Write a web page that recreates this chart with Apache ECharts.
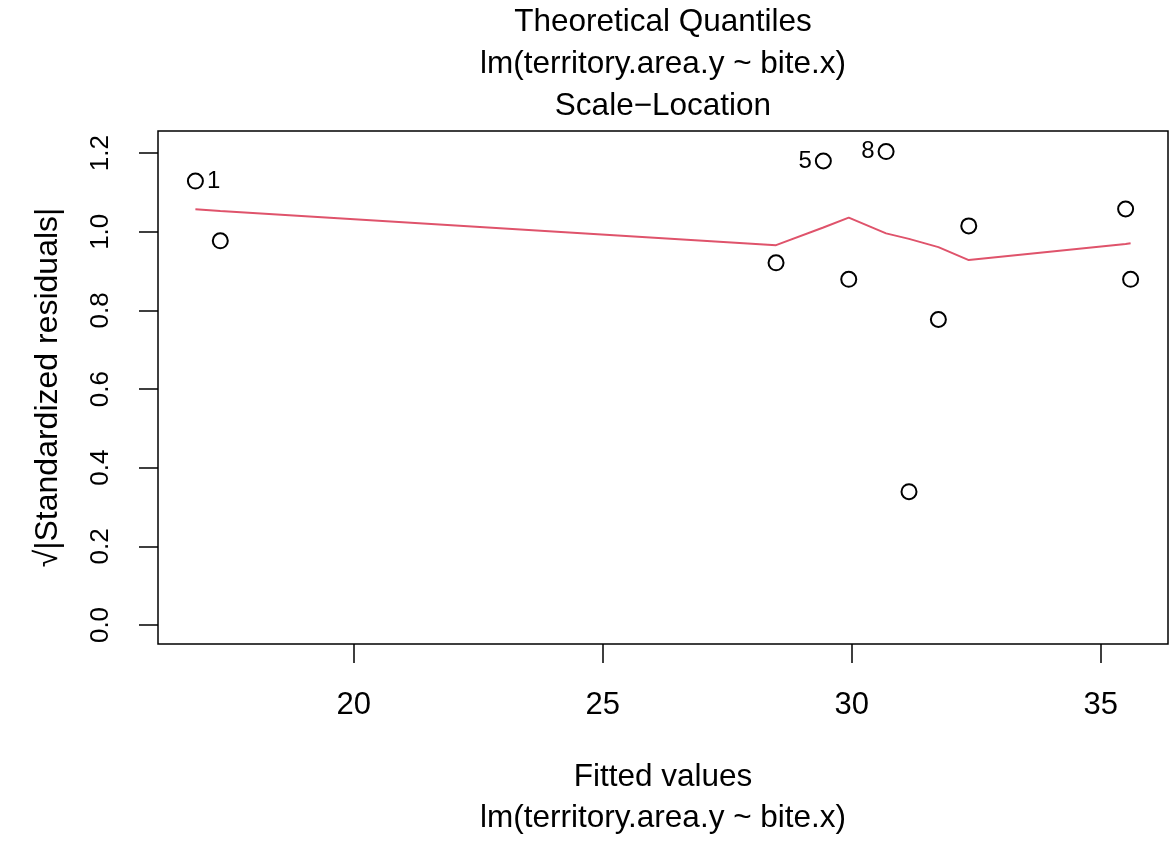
<!DOCTYPE html>
<html>
<head>
<meta charset="utf-8">
<script src="https://cdn.jsdelivr.net/npm/echarts@6/dist/echarts.min.js"></script>
<style>
html,body{margin:0;padding:0;background:#fff;}
#chart{width:1172px;height:846px;}
</style>
</head>
<body>
<div id="chart"></div>
<script>
// Fitted values (x) and sqrt(|standardized residuals|) (y)
var fittedValues = [16.82, 17.32, 28.48, 29.43, 29.94, 30.69, 31.15, 31.74, 32.35, 35.50, 35.60];
var sqrtStdResid = [1.129, 0.977, 0.921, 1.180, 0.879, 1.204, 0.339, 0.777, 1.015, 1.058, 0.879];
var pointLabels  = ['1', '', '', '5', '', '8', '', '', '', '', ''];
// Red smoother line
var smoothX = [16.82, 17.32, 28.48, 29.43, 29.94, 30.69, 31.15, 31.74, 32.35, 35.50, 35.60];
var smoothY = [1.057, 1.053, 0.966, 1.011, 1.036, 0.996, 0.982, 0.961, 0.928, 0.969, 0.971];
// Tick labels
var xTicks = [20, 25, 30, 35];
var yTicks = [0.0, 0.2, 0.4, 0.6, 0.8, 1.0, 1.2];

var titleText = 'Theoretical Quantiles\nlm(territory.area.y ~ bite.x)\nScale\u2212Location';
var xName = 'Fitted values\nlm(territory.area.y ~ bite.x)';
var yName = '\u221A|Standardized residuals|';

var FONT = '"Liberation Sans", Arial, Helvetica, sans-serif';

var xMid = (Math.min.apply(null, fittedValues) + Math.max.apply(null, fittedValues)) / 2;
var pointData = fittedValues.map(function (x, i) {
  return {
    value: [x, sqrtStdResid[i]],
    label: {
      show: pointLabels[i] !== '',
      formatter: pointLabels[i],
      position: x > xMid ? 'left' : 'right'
    }
  };
});
var lineData = smoothX.map(function (x, i) { return [x, smoothY[i]]; });

var chart = echarts.init(document.getElementById('chart'), null, {renderer: 'canvas'});
chart.setOption({
  animation: false,
  backgroundColor: '#ffffff',
  textStyle: {fontFamily: FONT, color: '#000'},
  title: {
    text: titleText,
    left: 663,
    top: 1,
    textAlign: 'center',
    padding: 0,
    textStyle: {fontFamily: FONT, fontSize: 31.5, fontWeight: 'normal', color: '#000', lineHeight: 42}
  },
  grid: {
    left: 158, right: 4, top: 131, bottom: 202,
    show: true, borderColor: '#000', borderWidth: 1.5, backgroundColor: 'transparent',
    containLabel: false
  },
  xAxis: {
    type: 'value',
    min: 16.069, max: 36.351,
    splitLine: {show: false},
    axisLine: {show: false, onZero: false},
    axisTick: {show: true, inside: false, length: 19, customValues: xTicks, lineStyle: {color: '#000', width: 1.5}},
    axisLabel: {show: true, margin: 46, customValues: xTicks, fontFamily: FONT, fontSize: 31, color: '#000',
      formatter: function (v) { return String(v); }},
    name: xName,
    nameLocation: 'middle',
    nameGap: 113,
    nameTextStyle: {fontFamily: FONT, fontSize: 31.5, color: '#000', lineHeight: 41}
  },
  yAxis: {
    type: 'value',
    min: -0.0483, max: 1.2563,
    splitLine: {show: false},
    axisLine: {show: false, onZero: false},
    axisTick: {show: true, inside: false, length: 19, customValues: yTicks, lineStyle: {color: '#000', width: 1.5}},
    axisLabel: {show: true, margin: 44, rotate: 90, customValues: yTicks, fontFamily: FONT, fontSize: 26, color: '#000',
      formatter: function (v) { return v.toFixed(1); }},
    name: yName,
    nameLocation: 'middle',
    nameRotate: 90,
    nameGap: 94,
    nameTextStyle: {fontFamily: FONT, fontSize: 32, color: '#000'}
  },
  series: [
    {
      type: 'line',
      data: lineData,
      showSymbol: false,
      symbol: 'none',
      smooth: false,
      lineStyle: {color: '#DF536B', width: 2},
      z: 2
    },
    {
      type: 'scatter',
      data: pointData,
      symbol: 'circle',
      symbolSize: 15,
      itemStyle: {color: 'rgba(255,255,255,0)', borderColor: '#000', borderWidth: 2, opacity: 1},
      label: {fontFamily: FONT, fontSize: 24, color: '#000', distance: 3},
      z: 3
    }
  ]
});
</script>
</body>
</html>
